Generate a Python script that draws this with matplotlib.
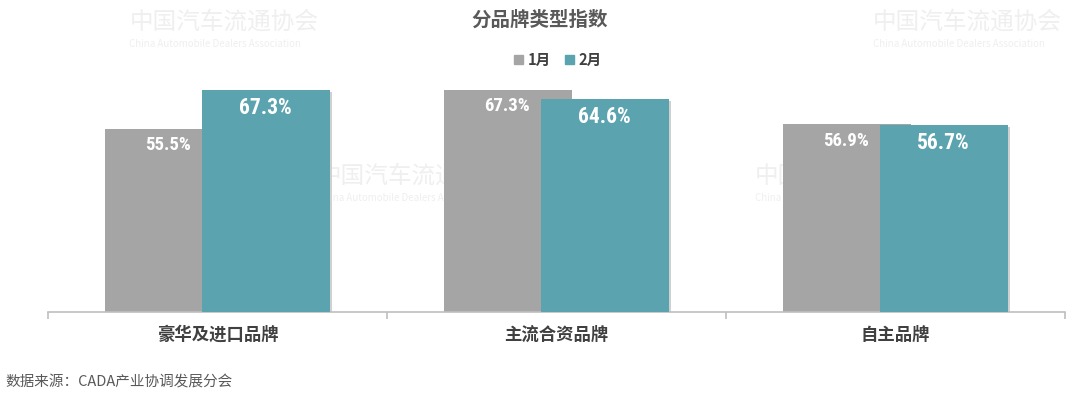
import matplotlib.pyplot as plt
import numpy as np
from matplotlib import font_manager

plt.rcParams['font.family'] = ['Noto Sans CJK SC', 'DejaVu Sans']

# data
categories = ["豪华及进口品牌", "主流合资品牌", "自主品牌"]
series_names = ["1月", "2月"]
jan = [55.5, 67.3, 56.9]
feb = [67.3, 64.6, 56.7]

TITLE = "分品牌类型指数"
SOURCE = "数据来源：CADA产业协调发展分会"

colors = {
    "grey":  "#A5A5A5",
    "teal":  "#5BA3AF",
    "axis":  "#BFBFBF",
    "text":  "#404040",
    "title": "#595959",
    "wm":    "#EFEFEF",
}

# pick a narrow face for the value labels if one is around
names = {f.name for f in font_manager.fontManager.ttflist}
narrow = [n for n in ("Liberation Sans Narrow", "Roboto Condensed", "Open Sans Condensed") if n in names]
label_font = dict(family=narrow + ['DejaVu Sans'], fontstretch="condensed", fontweight="heavy")

fig = plt.figure(figsize=(10.78, 4.0), dpi=100)
ax = fig.add_axes([48 / 1078, 88 / 400, 1017 / 1078, 252 / 400])

x = np.arange(len(categories))
width = 0.378
off = 0.142

# watermarks (behind everything)
wm_spots = [(0.12, 0.945), (0.81, 0.945), (0.295, 0.56), (0.70, 0.56)]
for wx, wy in wm_spots:
    fig.text(wx, wy, "中国汽车流通协会", fontsize=17, color=colors["wm"], va="center", zorder=0)
    fig.text(wx, wy - 0.055, "China Automobile Dealers Association", fontsize=7, color=colors["wm"],
             va="center", zorder=0)

ax.set_zorder(1)
ax.patch.set_alpha(0)

ax.bar(x - off, jan, width, color=colors["grey"], zorder=2)
# shadow for teal bars
ax.bar(x + off + 0.008, feb, width, bottom=-0.6, color="#D0D0D0", zorder=2.5)
ax.bar(x + off, feb, width, color=colors["teal"], zorder=3)

for i in range(len(categories)):
    ax.text(x[i] - off - 0.005, jan[i] - 2.2, f"{jan[i]}%", ha="center", va="top", color="white",
            fontsize=13.5, zorder=4, **label_font)
    ax.text(x[i] + off, feb[i] - 2.2, f"{feb[i]}%", ha="center", va="top", color="white",
            fontsize=15.5, zorder=4, **label_font)

ax.set_xlim(-0.5, 2.5)
ax.set_ylim(0, 76.4)
for s in ["top", "right", "left"]:
    ax.spines[s].set_visible(False)
ax.spines["bottom"].set_color(colors["axis"])
ax.spines["bottom"].set_linewidth(1.2)
ax.set_yticks([])
ax.set_xticks([-0.5, 0.5, 1.5, 2.5])
ax.set_xticklabels([])
ax.tick_params(axis="x", length=5, color=colors["axis"], width=1.2)
for i, c in enumerate(categories):
    ax.text(x[i], -7.0, c, ha="center", va="center", fontsize=12.5, fontweight="bold", color=colors["text"])

fig.text(540 / 1078, 1 - 20 / 400, TITLE, ha="center", va="center", fontsize=14, fontweight="bold",
         color=colors["title"])

# legend
handles = [plt.Rectangle((0, 0), 1, 1, color=colors["grey"]), plt.Rectangle((0, 0), 1, 1, color=colors["teal"])]
leg = fig.legend(handles, series_names, loc="center", bbox_to_anchor=(558 / 1078, 1 - 60 / 400), ncol=2,
                 frameon=False, handlelength=0.6, handleheight=0.6, handletextpad=0.3, columnspacing=1.0,
                 prop={"weight": "bold", "size": 10.5})
for t in leg.get_texts():
    t.set_color(colors["text"])

fig.text(5 / 1078, 1 - 383 / 400, SOURCE, ha="left", va="center", fontsize=10.5, color=colors["title"])

fig.savefig("out.png", dpi=100)
